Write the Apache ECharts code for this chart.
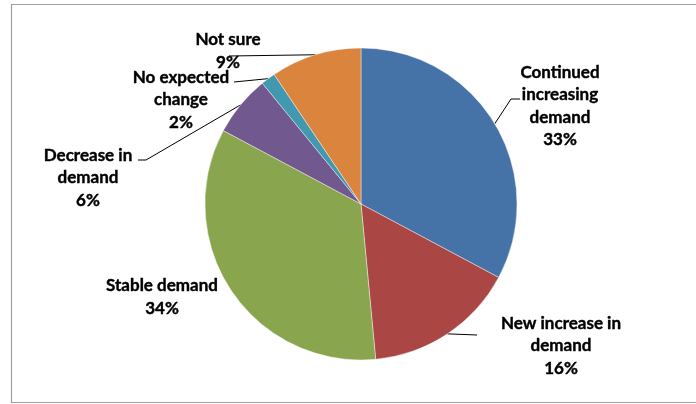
<!DOCTYPE html>
<html>
<head>
<meta charset="utf-8">
<script src="https://cdn.jsdelivr.net/npm/echarts@6/dist/echarts.min.js"></script>
<style>
  html, body { margin: 0; padding: 0; background: #fff; }
  #chart { width: 696px; height: 404px; }
</style>
</head>
<body>
<div id="chart"></div>
<script>
// Survey responses: expected demand outlook
const categories = [
  'Continued\nincreasing\ndemand',
  'New increase in\ndemand',
  'Stable demand',
  'Decrease in\ndemand',
  'No expected\nchange',
  'Not sure'
];
const shares = [32.8, 15.7, 34.3, 6.3, 1.5, 9.4];
const colors = ['#4572A7', '#AA4643', '#89A54E', '#71588F', '#4198AF', '#DB843D'];

// Label anchor (centre of text block) for each slice
const labelAnchors = [
  [560, 106], [561, 346], [162, 297], [88, 178], [181, 100], [228, 51]
];
// Leader-line bend / end points after the slice edge (null = no line)
const leaderPaths = [
  [[511, 99], [520, 99]],
  [[477, 335]],
  null,
  [[146, 160], [138, 160]],
  [[234, 82]],
  [[229, 56]]
];

const chart = echarts.init(document.getElementById('chart'), null, { renderer: 'canvas' });

const data = categories.map((name, i) => ({
  name: name,
  value: shares[i],
  itemStyle: { color: colors[i] },
  labelLine: { show: leaderPaths[i] !== null }
}));

chart.setOption({
  animation: false,
  backgroundColor: '#fff',
  graphic: [{
    type: 'rect',
    shape: { x: 11.5, y: 4.5, width: 700, height: 398 },
    style: { fill: 'none', stroke: '#a0a0a0', lineWidth: 1.2 },
    silent: true,
    z: -1
  }],
  series: [{
    type: 'pie',
    center: [361, 204],
    radius: 156,
    startAngle: 90,
    clockwise: true,
    percentPrecision: 0,
    avoidLabelOverlap: false,
    data: data,
    itemStyle: { borderColor: 'rgba(255,255,255,0.7)', borderWidth: 0.6 },
    label: {
      show: true,
      position: 'outside',
      formatter: '{b}\n{d}%',
      fontFamily: 'Lato',
      fontWeight: 'bold',
      fontSize: 17,
      lineHeight: 22.5,
      color: '#000',
      textBorderColor: '#000',
      textBorderWidth: 0.4,
      align: 'center'
    },
    labelLine: {
      show: true,
      lineStyle: { color: '#000', width: 1 }
    },
    labelLayout: function (params) {
      const i = params.dataIndex;
      const a = labelAnchors[i];
      const out = { x: a[0], y: a[1], align: 'center', verticalAlign: 'middle' };
      const path = leaderPaths[i];
      if (path && params.labelLinePoints) {
        out.labelLinePoints = [params.labelLinePoints[0]].concat(path);
      }
      return out;
    }
  }]
});
</script>
</body>
</html>
